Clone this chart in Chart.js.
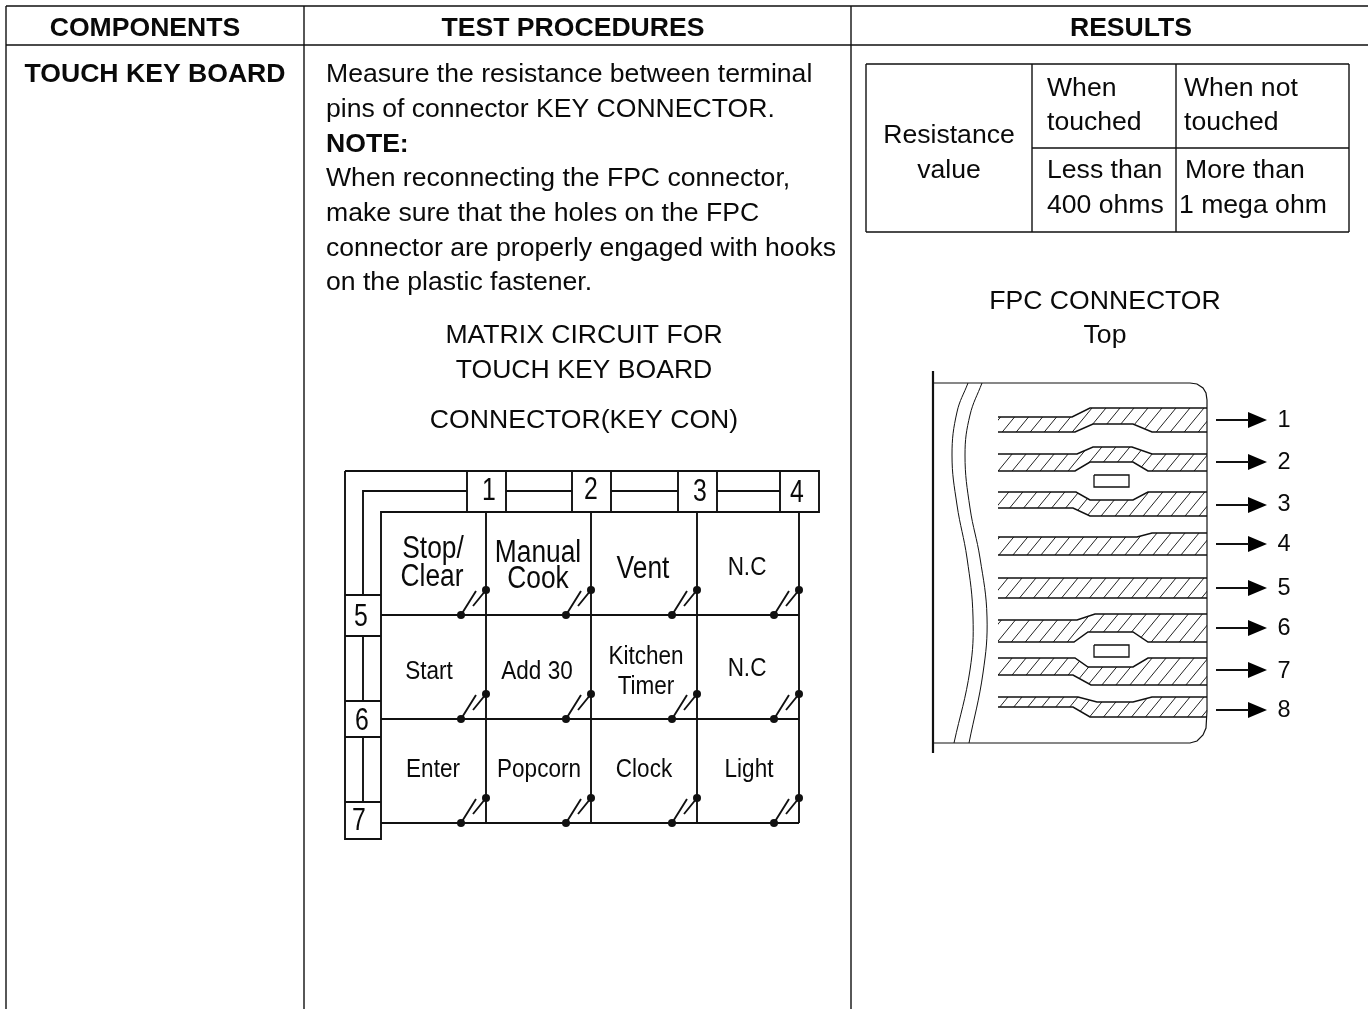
<!DOCTYPE html>
<html><head><meta charset="utf-8">
<script src="https://cdn.jsdelivr.net/npm/chart.js@4"></script>
<style>html,body{margin:0;padding:0;background:#fff}canvas{display:block}</style>
</head><body><canvas id="c" width="1368" height="1009"></canvas>
<script>
// ---- data (diagram coordinates) ----
const tableRules = [[6,6,1368,6],[6,45,1368,45],[6,6,6,1009],[304,6,304,1009],[851,6,851,1009]];
const resultRules = [[866,64,1349,64],[866,232,1349,232],[866,64,866,232],[1349,64,1349,232],[1032,64,1032,232],[1176,64,1176,232],[1032,148,1349,148]];
const matrixFrame = [[345,471,819,471,819,512,381,512,381,839,345,839,345,471],
 [363,595,363,491,467,491],[506,491,572,491],[611,491,678,491],[717,491,780,491],
 [467,471,467,512],[506,471,506,512],[572,471,572,512],[611,471,611,512],[678,471,678,512],[717,471,717,512],[780,471,780,512],
 [345,595,381,595],[345,636,381,636],[345,701,381,701],[345,737,381,737],[345,802,381,802],
 [363,636,363,701],[363,737,363,802]];
const columnX = [486,591,697,799];
const switchLowerX = [461,566,672,774];
const rowY = [615,719,823];
const columnTop = 512, columnBottom = 823, rowStart = 381, rowEnd = 799;
const contactRise = 25;
const bladeLong = [15,-24];
const bladeShort = [-13,16];

const fpcFrame = [[933,371,933,753],[933,383,1190,383,1197,384,1203,388,1206,393,1207,400,1207,711,1206,728,1203,735,1197,741,1190,743,933,743]];
const waveA = [[968,383],[957,412],[952,455],[957,505],[967,558],[973,617],[970,670],[954,743]];
const waveB = [[982,383],[970,415],[965,455],[970,508],[980,558],[987,617],[983,673],[969,743]];
const traceTops = [
 [998,417,1072,417,1090,408,1207,408],
 [998,454,1077,454,1093,447,1132,447,1152,454,1207,454],
 [998,492,1076,492,1090,500,1133,500,1148,492,1207,492],
 [998,537,1137,537,1152,533,1207,533],
 [998,578,1207,578],
 [998,620,1077,620,1095,614,1207,614],
 [998,658,1075,658,1088,667,1133,667,1148,658,1207,658],
 [998,697,1078,697,1097,702,1133,702,1152,697,1207,697]];
const traceBottoms = [
 [998,432,1075,432,1093,424,1133,424,1152,432,1207,432],
 [998,471,1075,471,1090,462,1133,462,1148,471,1207,471],
 [998,508,1073,508,1090,516,1207,516],
 [998,555,1207,555],
 [998,598,1207,598],
 [998,642,1074,642,1088,632,1133,632,1148,642,1207,642],
 [998,675,1073,675,1091,685,1207,685],
 [998,707,1073,707,1090,717,1207,717]];
const slots = [[1094,475,1129,475,1129,487,1094,487,1094,475],[1094,645,1129,645,1129,657,1094,657,1094,645]];
const arrowY = [420,462,505,544,588,628,670,710];
const arrowShaft = [1216,1249];
const arrowHead = [1248,1267,8];

// text: [string, x, centreY, align]
const headerText = [["COMPONENTS",145,26],["TEST PROCEDURES",573,26],["RESULTS",1131,26],["TOUCH KEY BOARD",155,72]];
const bodyText = [["Measure the resistance between terminal",326,72,"left"],["pins of connector KEY CONNECTOR.",326,107,"left"],
 ["When reconnecting the FPC connector,",326,176,"left"],["make sure that the holes on the FPC",326,211,"left"],
 ["connector are properly engaged with hooks",326,246,"left"],["on the plastic fastener.",326,280,"left"],
 ["MATRIX CIRCUIT FOR",584,333],["TOUCH KEY BOARD",584,368],["CONNECTOR(KEY CON)",584,418],
 ["FPC CONNECTOR",1105,299],["Top",1105,333],
 ["Resistance",949,133],["value",949,168],["When",1047,86,"left"],["touched",1047,120,"left"],["When not",1184,86,"left"],["touched",1184,120,"left"],
 ["Less than",1047,168,"left"],["400 ohms",1047,203,"left"],["More than",1185,168,"left"],["1 mega ohm",1179,203,"left"]];
const noteText = [["NOTE:",326,142,"left"]];
const keyLarge = [["Stop/",433,547],["Clear",432,575],["Manual",538,551],["Cook",538,577],["Vent",643,567]];
const keySmall = [["N.C",747,566],["Start",429,670],["Add 30",537,670],["Kitchen",646,655],["Timer",646,685],["N.C",747,667],
 ["Enter",433,768],["Popcorn",539,768],["Clock",644,768],["Light",749,768]];
const pinNumbers = [["1",489,489],["2",591,488],["3",700,490],["4",797,491],["5",361,615],["6",362,719],["7",359,819]];
const fpcNumbers = [["1",1284,419],["2",1284,461],["3",1284,503],["4",1284,543],["5",1284,587],["6",1284,627],["7",1284,670],["8",1284,709]];

// ---- helpers ----
const GAP = {x:NaN,y:NaN};
const poly = f => { const o=[]; for(let i=0;i<f.length;i+=2) o.push({x:f[i],y:f[i+1]}); return o; };
const lines = list => list.flatMap(f => [...poly(f), GAP]);
const ink = '#111';
const stroke = (data,w,extra={}) => Object.assign({data,showLine:true,borderColor:ink,borderWidth:w,pointRadius:0,fill:false,tension:0},extra);

// hatch tile
const tile = document.createElement('canvas'); tile.width = 14; tile.height = 17;
{ const t = tile.getContext('2d'); t.strokeStyle = '#222'; t.lineWidth = 1; t.beginPath();
  for (const k of [-1,0,1]) { t.moveTo(k*14,17); t.lineTo(k*14+14,0); }
  t.stroke(); }
const hatch = document.createElement('canvas').getContext('2d').createPattern(tile,'repeat');

const columnSegs = columnX.map(x=>[x,columnTop,x,columnBottom]);
const rowSegs = rowY.map(y=>[rowStart,y,rowEnd,y]);
const blades = [], dots = [];
rowY.forEach(y=>columnX.forEach((cx,i)=>{
  const lx = switchLowerX[i], uy = y-contactRise;
  blades.push([lx,y,lx+bladeLong[0],y+bladeLong[1]],[cx,uy,cx+bladeShort[0],uy+bladeShort[1]]);
  dots.push({x:lx,y},{x:cx,y:uy});
}));

const datasets = [
  stroke(lines(tableRules),1.4),
  stroke(lines(resultRules),1.4),
  stroke(lines(matrixFrame),1.9),
  stroke(lines(columnSegs),1.9),
  stroke(lines(rowSegs),1.9),
  stroke(lines(blades),1.9),
  {data:dots,showLine:false,pointRadius:4,pointBackgroundColor:ink,pointBorderWidth:0},
  stroke(lines(fpcFrame.slice(0,1)),2.2),
  stroke(lines(fpcFrame.slice(1)),1.2),
  stroke(waveA.map(p=>({x:p[0],y:p[1]})),1,{tension:0.4}),
  stroke(waveB.map(p=>({x:p[0],y:p[1]})),1,{tension:0.4}),
  stroke(lines(traceTops),1.5),
  stroke(lines(traceBottoms),1.5),
  stroke(lines(slots),1.3),
  stroke(arrowY.flatMap(y=>[{x:arrowShaft[0],y},{x:arrowShaft[1],y},GAP]),2),
];
traceTops.forEach((top,i)=>{
  const b = traceBottoms[i], rev=[];
  for(let k=b.length-2;k>=0;k-=2) rev.push(b[k],b[k+1]);
  datasets.push({data:poly([...top,...rev,top[0],top[1]]),showLine:true,pointRadius:0,borderWidth:0,borderColor:'rgba(0,0,0,0)',backgroundColor:hatch,fill:'shape',tension:0});
});
arrowY.forEach(y=>{
  datasets.push({data:poly([arrowHead[0],y-arrowHead[2],arrowHead[1],y,arrowHead[0],y+arrowHead[2],arrowHead[0],y-arrowHead[2]]),showLine:true,pointRadius:0,borderWidth:0,borderColor:'rgba(0,0,0,0)',backgroundColor:'#000',fill:'shape',tension:0});
});

const textPlugin = {
  id:'diagramText',
  beforeDraw(chart){ const c=chart.ctx; c.save(); c.fillStyle='#fff'; c.fillRect(0,0,chart.width,chart.height); c.restore(); },
  afterDatasetsDraw(chart){
    const c=chart.ctx, X=chart.scales.x, Y=chart.scales.y;
    const put=(rows,size,weight,sx)=>rows.forEach(([s,x,y,al])=>{
      c.save(); c.font=`${weight} ${size}px "Liberation Sans", Arial, sans-serif`; c.fillStyle='#0a0a0a';
      c.textAlign=al||'center'; c.textBaseline='alphabetic';
      c.translate(X.getPixelForValue(x),Y.getPixelForValue(y)+size*0.358);
      c.scale(sx,1); c.fillText(s,0,0); c.restore();
    });
    put(headerText,26.6,'bold',1);
    put(noteText,26.6,'bold',1);
    put(bodyText,26.6,'normal',1);
    put(keyLarge,31,'normal',0.85);
    put(keySmall,25,'normal',0.9);
    put(pinNumbers,31,'normal',0.8);
    put(fpcNumbers,23.5,'normal',1);
  }
};

new Chart(document.getElementById('c'),{
  type:'scatter',
  data:{datasets},
  options:{
    responsive:false,animation:false,events:[],
    layout:{padding:0,autoPadding:false},
    plugins:{legend:{display:false},tooltip:{enabled:false},title:{display:false}},
    scales:{
      x:{type:'linear',display:false,min:0,max:1368},
      y:{type:'linear',display:false,min:0,max:1009,reverse:true}
    }
  },
  plugins:[textPlugin]
});
</script></body></html>
